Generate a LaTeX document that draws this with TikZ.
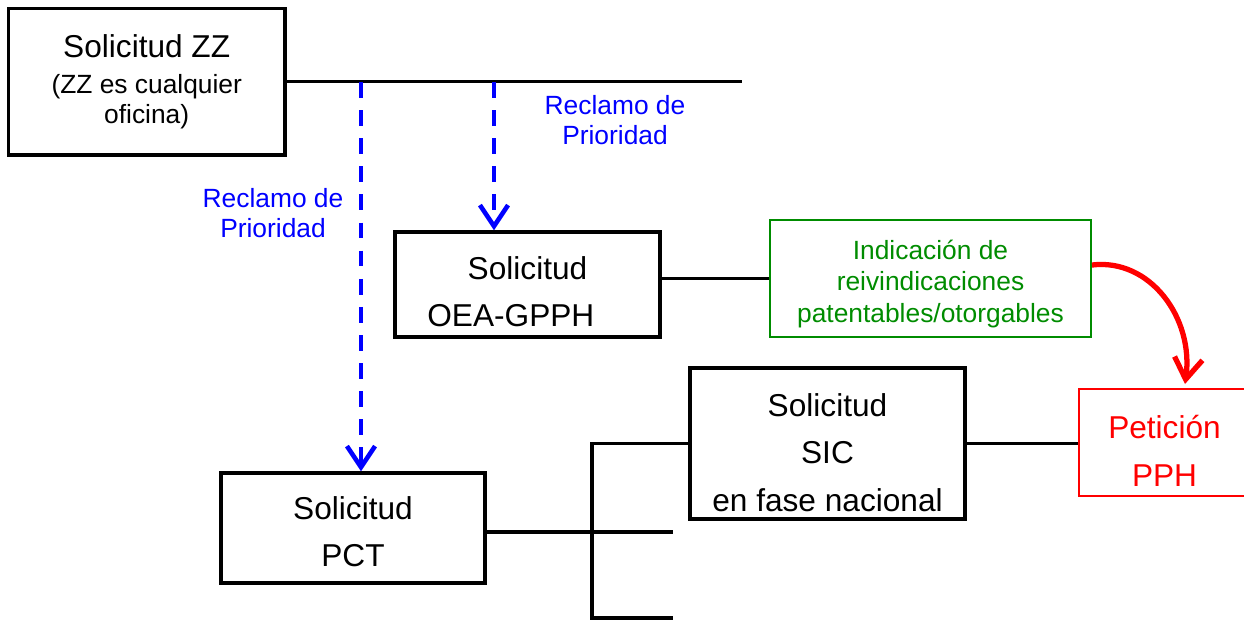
\documentclass[tikz,border=0pt]{standalone}
\usepackage{fontspec}
\setmainfont{Liberation Sans}
\usetikzlibrary{arrows.meta}
\definecolor{gblue}{RGB}{0,0,255}
\definecolor{ggreen}{RGB}{0,140,0}
\definecolor{gred}{RGB}{255,0,0}
\newcommand\mytopstrut[1]{\rule{0pt}{#1}}
\begin{document}
\begin{tikzpicture}[x=0.02cm,y=-0.02cm,
  box/.style={draw=black, line width=2pt, fill=white, align=center, inner sep=0pt,
    font=\fontsize{18}{27}\selectfont},
  link/.style={line width=2pt},
  claim/.style={draw=gblue, line width=2.6pt, dash pattern=on 9pt off 7pt,
    -{Straight Barb[length=12pt,width=16pt]}},
  bluetext/.style={text=gblue, align=center, font=\fontsize{15}{17}\selectfont},
  greenbox/.style={draw=ggreen, line width=1.2pt, text=ggreen, align=center, inner sep=0pt,
    font=\fontsize{15}{18}\selectfont},
  redbox/.style={draw=gred, line width=1.3pt, text=gred, align=center, inner sep=0pt,
    font=\fontsize{18}{27}\selectfont},
  redarrow/.style={draw=gred, line width=3pt, -{Straight Barb[length=12pt,width=16pt]}}
]
\useasboundingbox (0,0) rectangle (1244,620);

% boxes
\node[box, minimum width=5.53cm, minimum height=2.93cm, font=\fontsize{15}{17}\selectfont] (zz) at (146.7,81.7)
  {{\fontsize{18}{18}\selectfont Solicitud ZZ}\\[4pt](ZZ es cualquier\\oficina)};
\node[box, minimum width=5.3cm, minimum height=2.1cm] (oea) at (527.5,284.5) {\mytopstrut{21pt}Solicitud\\OEA-GPPH\hspace*{19pt}};
\node[box, minimum width=5.28cm, minimum height=2.2cm] (pct) at (353,528) {\mytopstrut{17.5pt}Solicitud\\PCT};
\node[box, minimum width=5.5cm, minimum height=3.02cm] (sic) at (827.5,443.5) {\mytopstrut{23pt}Solicitud\\SIC\\en fase nacional};
\node[greenbox, minimum width=6.42cm, minimum height=2.34cm] (green) at (930.5,278.5)
  {\mytopstrut{17pt}Indicación de\\reivindicaciones\\patentables/otorgables};
\node[redbox, minimum width=3.42cm, minimum height=2.14cm] (red) at (1164.5,442.5) {\mytopstrut{23pt}Petición\\PPH};

% labels
\node[bluetext] (lab1) at (615,120) {Reclamo de\\Prioridad};
\node[bluetext] (lab2) at (273,213) {Reclamo de\\Prioridad};

% coordinates
\coordinate (topend) at (742,82);
\coordinate (c1) at (361,82);
\coordinate (c2) at (494,82);
\coordinate (bb) at (592,618);
\coordinate (e1) at (673,532);
\coordinate (e2) at (673,618);
\coordinate (rs) at (1092,265);
\coordinate (rt) at (1185,384);

% connectors
\draw[link] (zz.east) -- (zz.east -| topend);
\draw[claim] (c1) -- (c1 |- pct.north);
\draw[claim] (c2) -- (c2 |- oea.north);
\draw[link] (green.west) -- (green.west -| oea.east);
\draw[link] (sic.east) -- (sic.east -| red.west);
\draw[link] (sic.west) -| (bb) -- (e2);
\draw[link] (pct.east |- e1) -- (e1);
\draw[redarrow] (rs) .. controls (1150,258) and (1194,318) .. (rt);
\end{tikzpicture}
\end{document}
